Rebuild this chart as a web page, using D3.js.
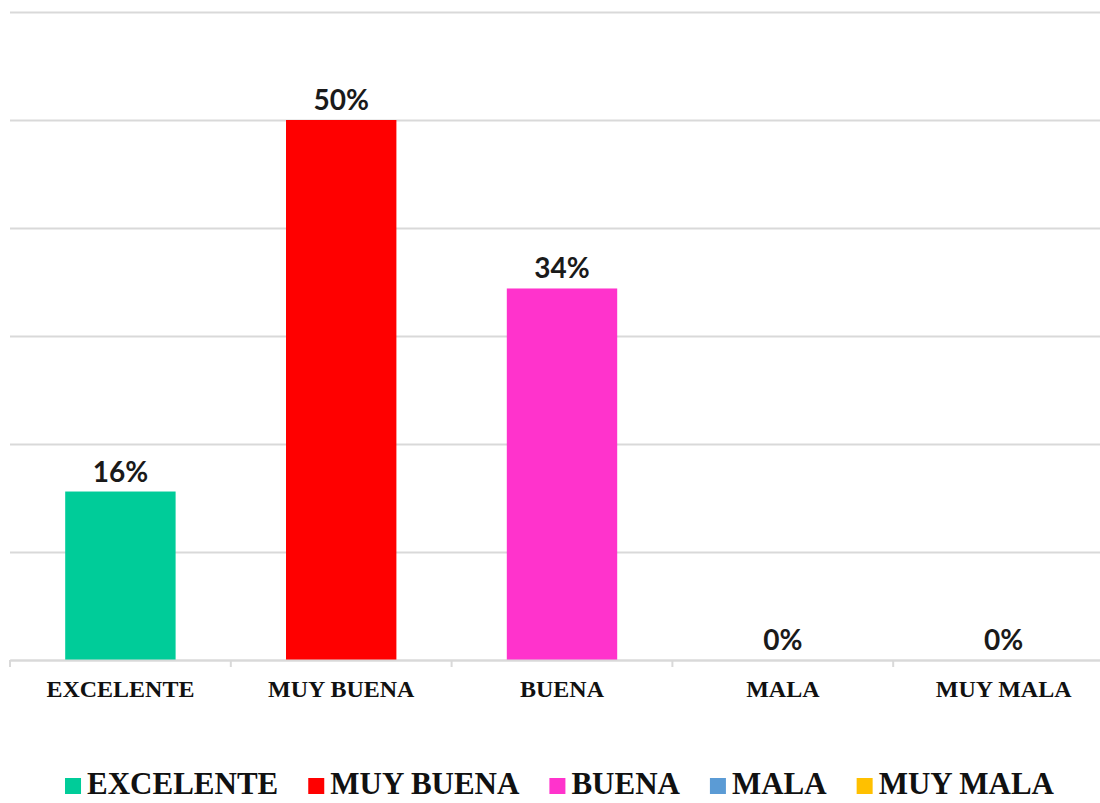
<!DOCTYPE html>
<html>
<head>
<meta charset="utf-8">
<script src="https://cdn.jsdelivr.net/npm/d3@7"></script>
<style>
  html, body { margin: 0; padding: 0; background: #ffffff; }
  svg { display: block; }
</style>
</head>
<body>
<svg id="chart" width="1100" height="803"></svg>
<script>
// ---- data ----
const categories = ["EXCELENTE", "MUY BUENA", "BUENA", "MALA", "MUY MALA"];
const values = [15.6, 50, 34.4, 0, 0];           // percent
const colors = ["#00CC99", "#FF0000", "#FF33CC", "#5B9BD5", "#FFC000"];
const gridTicks = [0, 10, 20, 30, 40, 50, 60];

// ---- layout ----
const W = 1100, H = 803;
const plot = { left: 10, right: 1114, top: 12, bottom: 660 };
const svg = d3.select("#chart");

const x = d3.scaleBand()
  .domain(categories)
  .range([plot.left, plot.right])
  .paddingInner(0.5)
  .paddingOuter(0.25);

const y = d3.scaleLinear()
  .domain([0, 60])
  .range([plot.bottom, plot.top]);

// gridlines
const grid = svg.append("g")
  .attr("transform", `translate(${plot.left},0)`)
  .call(d3.axisLeft(y).tickValues(gridTicks).tickSize(-(plot.right - plot.left)).tickFormat(""));
grid.select(".domain").remove();
grid.selectAll(".tick line").attr("stroke", "#d9d9d9").attr("stroke-width", 2);

// bars
svg.append("g").selectAll("rect")
  .data(categories)
  .join("rect")
  .attr("x", d => x(d))
  .attr("width", x.bandwidth())
  .attr("y", (d, i) => y(values[i]))
  .attr("height", (d, i) => y(0) - y(values[i]))
  .attr("fill", (d, i) => colors[i]);

// x axis (baseline + category labels)
const xAxis = svg.append("g")
  .attr("transform", `translate(0,${plot.bottom})`)
  .call(d3.axisBottom(x).tickSize(0).tickPadding(0));
xAxis.select(".domain").attr("stroke", "#d9d9d9").attr("stroke-width", 2);
xAxis.selectAll(".tick text")
  .attr("font-family", "'Liberation Serif', 'Times New Roman', serif")
  .attr("font-weight", "bold")
  .attr("font-size", 24)
  .attr("fill", "#111")
  .attr("dy", null)
  .attr("y", 37);

// tick marks at category boundaries
const step = x.step();
const boundaries = categories.map(d => x(d) - step * x.paddingOuter());
svg.append("g").selectAll("line")
  .data(boundaries)
  .join("line")
  .attr("x1", d => d).attr("x2", d => d)
  .attr("y1", plot.bottom).attr("y2", plot.bottom + 7)
  .attr("stroke", "#d9d9d9").attr("stroke-width", 2);

// value labels
const fmt = d3.format(".0f");
svg.append("g").selectAll("text")
  .data(categories)
  .join("text")
  .attr("x", d => x(d) + x.bandwidth() / 2)
  .attr("y", (d, i) => y(values[i]) - 10)
  .attr("text-anchor", "middle")
  .attr("font-family", "Lato, 'Open Sans', sans-serif")
  .attr("font-weight", "bold")
  .attr("font-size", 28)
  .attr("fill", "#1a1a1a")
  .text((d, i) => fmt(values[i]) + "%");

// legend
const legend = svg.append("g");
const items = legend.selectAll("g")
  .data(categories)
  .join("g");
items.append("rect")
  .attr("width", 16).attr("height", 16)
  .attr("y", 778)
  .attr("fill", (d, i) => colors[i]);
items.append("text")
  .attr("x", 22)
  .attr("y", 794)
  .attr("font-family", "'Liberation Serif', 'Times New Roman', serif")
  .attr("font-weight", "bold")
  .attr("font-size", 31)
  .attr("fill", "#111")
  .text(d => d);
let cx = 0;
const gap = 30;
items.each(function () {
  const t = d3.select(this).select("text").node().getComputedTextLength();
  d3.select(this).attr("transform", `translate(${cx},0)`);
  cx += 22 + t + gap;
});
const totalW = cx - gap;
legend.attr("transform", `translate(${(57 + 1062) / 2 - totalW / 2},0)`);
</script>
</body>
</html>
